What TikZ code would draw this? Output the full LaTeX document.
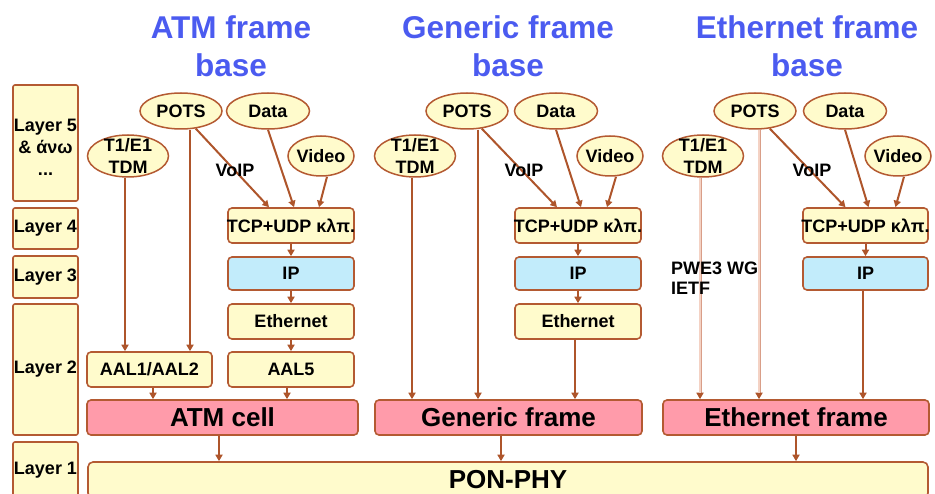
\documentclass[tikz,border=0pt]{standalone}
\usepackage{fontspec}
\setmainfont{Liberation Sans}
\usetikzlibrary{shapes.geometric,arrows.meta}
\definecolor{brd}{HTML}{B45A32}
\definecolor{arrc}{HTML}{AE552B}
\definecolor{faintc}{HTML}{D99E88}
\definecolor{faintin}{HTML}{F4D2C4}
\definecolor{yel}{HTML}{FFFBCC}
\definecolor{pinkc}{HTML}{FF9BAA}
\definecolor{bluec}{HTML}{C2ECFB}
\definecolor{ttlblue}{HTML}{4B5BF0}
\tikzset{
  lbl/.style={font=\bfseries\fontsize{18}{22}\selectfont, text=black, inner sep=0pt},
  ttl/.style={font=\bfseries\fontsize{31.5}{38}\selectfont, text=ttlblue, align=center, inner sep=0pt},
  layerbox/.style={lbl, draw=brd, fill=yel, line width=1.6pt, rounded corners=2pt,
    minimum width=65, align=center},
  box/.style={lbl, draw=brd, fill=yel, line width=1.6pt, rounded corners=4pt},
  framebox/.style={box, fill=pinkc, font=\bfseries\fontsize{26}{30}\selectfont, minimum height=35},
  ell/.style={ellipse, draw=brd, fill=yel, line width=1.5pt, inner sep=0pt},
  arr/.style={draw=arrc, line width=2pt, -{Triangle[length=6.5pt,width=7pt]}},
  faint/.style={draw=faintc, line width=3pt,
    -{Triangle[length=6.5pt,width=7pt,color=arrc,fill=arrc]},
    postaction={draw=faintin, line width=1.2pt, -, shorten >=6.5pt}}
}
\begin{document}
\begin{tikzpicture}[x=1pt,y=-1pt]
\useasboundingbox (0,0) rectangle (935,494);
\clip (0,0) rectangle (935,494);

% column titles
\node[ttl] (ttlA) at (231,46) {ATM frame\\base};
\node[ttl] (ttlG) at (508,46) {Generic frame\\base};
\node[ttl] (ttlE) at (807,46) {Ethernet frame\\base};

% layer column
\node[layerbox, minimum height=116] (l5) at (45.5,143) {};
\node[lbl, align=center] (l5t) at (45.5,147) {Layer 5\\\& άνω\\...};
\node[layerbox, minimum height=41] (l4) at (45.5,228.5) {Layer 4};
\node[layerbox, minimum height=42] (l3) at (45.5,277) {Layer 3};
\node[layerbox, minimum height=131] (l2) at (45.5,369.5) {Layer 2};
\node[layerbox, minimum height=56] (l1) at (45.5,470) {Layer 1};

% physical layer
\node[box, rounded corners=5pt, minimum width=840, minimum height=36,
  font=\bfseries\fontsize{26}{30}\selectfont] (pon) at (508,480) {PON-PHY};

% ---------- ATM column ----------
\node[ell, minimum width=82, minimum height=36, label={[lbl]center:POTS}] (potsA) at (181,111) {};
\node[ell, minimum width=83, minimum height=36, label={[lbl]center:Data}] (dataA) at (268,111) {};
\node[ell, minimum width=66, minimum height=40, label={[lbl]center:Video}] (vidA) at (321,156) {};
\node[ell, minimum width=81, minimum height=42, label={[lbl,align=center]center:T1/E1\\TDM}] (t1A) at (128,156) {};
\node[box, minimum width=126, minimum height=35, label={[lbl]center:TCP+UDP κλπ.}] (tcpA) at (291,225.5) {};
\node[box, fill=bluec, minimum width=126, minimum height=33] (ipA) at (291,273.5) {IP};
\node[box, minimum width=126, minimum height=35] (ethA) at (291,321.5) {Ethernet};
\node[box, minimum width=126, minimum height=35] (aal5A) at (291,369.5) {AAL5};
\node[box, minimum width=125, minimum height=35] (aalA) at (149.5,369.5) {AAL1/AAL2};
\node[framebox, minimum width=271] (cellA) at (222.5,417.5) {ATM cell};

\draw[arr] ([xshift=-3]t1A.south) -- ([xshift=-3]t1A.south |- aalA.north);
\draw[arr] ([xshift=9]potsA.south) -- ([xshift=9]potsA.south |- aalA.north);
\draw[arr] (potsA.-50) -- ([xshift=-22]tcpA.north);
\draw[arr] (dataA.south) -- ([xshift=3]tcpA.north);
\draw[arr] ([xshift=6]vidA.south) -- ([xshift=28]tcpA.north);
\draw[arr] (tcpA) -- (ipA);
\draw[arr] (ipA) -- (ethA);
\draw[arr] (ethA) -- (aal5A);
\draw[arr] ([xshift=-4]aal5A.south) -- ([xshift=-4]aal5A.south |- cellA.north);
\draw[arr] ([xshift=3.5]aalA.south) -- ([xshift=3.5]aalA.south |- cellA.north);
\draw[arr] ([xshift=-3.5]cellA.south) -- ([xshift=-3.5]cellA.south |- pon.north);
\node[lbl] (voA) at (235,170) {VoIP};

% ---------- Generic column ----------
\node[ell, minimum width=82, minimum height=36, label={[lbl]center:POTS}] (potsG) at (467,111) {};
\node[ell, minimum width=83, minimum height=36, label={[lbl]center:Data}] (dataG) at (556,111) {};
\node[ell, minimum width=66, minimum height=40, label={[lbl]center:Video}] (vidG) at (610,156) {};
\node[ell, minimum width=81, minimum height=42, label={[lbl,align=center]center:T1/E1\\TDM}] (t1G) at (415,156) {};
\node[box, minimum width=126, minimum height=35, label={[lbl]center:TCP+UDP κλπ.}] (tcpG) at (578,225.5) {};
\node[box, fill=bluec, minimum width=126, minimum height=33] (ipG) at (578,273.5) {IP};
\node[box, minimum width=126, minimum height=35] (ethG) at (578,321.5) {Ethernet};
\node[framebox, minimum width=267] (frmG) at (508.5,417.5) {Generic frame};

\draw[arr] ([xshift=-3]t1G.south) -- ([xshift=-3]t1G.south |- frmG.north);
\draw[arr] ([xshift=11]potsG.south) -- ([xshift=11]potsG.south |- frmG.north);
\draw[arr] (potsG.-50) -- ([xshift=-21]tcpG.north);
\draw[arr] (dataG.south) -- ([xshift=3]tcpG.north);
\draw[arr] ([xshift=6]vidG.south) -- ([xshift=29]tcpG.north);
\draw[arr] (tcpG) -- (ipG);
\draw[arr] (ipG) -- (ethG);
\draw[arr] ([xshift=-3]ethG.south) -- ([xshift=-3]ethG.south |- frmG.north);
\draw[arr] ([xshift=-7.5]frmG.south) -- ([xshift=-7.5]frmG.south |- pon.north);
\node[lbl] (voG) at (524,170) {VoIP};

% ---------- Ethernet column ----------
\node[ell, minimum width=82, minimum height=36, label={[lbl]center:POTS}] (potsE) at (755,111) {};
\node[ell, minimum width=83, minimum height=36, label={[lbl]center:Data}] (dataE) at (845,111) {};
\node[ell, minimum width=66, minimum height=40, label={[lbl]center:Video}] (vidE) at (898,156) {};
\node[ell, minimum width=81, minimum height=42, label={[lbl,align=center]center:T1/E1\\TDM}] (t1E) at (703,156) {};
\node[box, minimum width=125, minimum height=35, label={[lbl]center:TCP+UDP κλπ.}] (tcpE) at (865.5,225.5) {};
\node[box, fill=bluec, minimum width=125, minimum height=33] (ipE) at (865.5,273.5) {IP};
\node[framebox, minimum width=266] (frmE) at (796,417.5) {Ethernet frame};

\draw[faint] ([xshift=-3]t1E.south) -- ([xshift=-3]t1E.south |- frmE.north);
\draw[faint] ([xshift=4]potsE.south) -- ([xshift=4]potsE.south |- frmE.north);
\draw[arr] (potsE.-50) -- ([xshift=-20]tcpE.north);
\draw[arr] (dataE.south) -- ([xshift=3]tcpE.north);
\draw[arr] ([xshift=6]vidE.south) -- ([xshift=30]tcpE.north);
\draw[arr] (tcpE) -- (ipE);
\draw[arr] ([xshift=-2.5]ipE.south) -- ([xshift=-2.5]ipE.south |- frmE.north);
\draw[arr] (frmE.south) -- (frmE.south |- pon.north);
\node[lbl] (voE) at (812,170) {VoIP};
\node[lbl, align=left, anchor=west, font=\bfseries\fontsize{18}{20}\selectfont] (pwe) at (671,278) {PWE3 WG\\IETF};
\end{tikzpicture}
\end{document}
